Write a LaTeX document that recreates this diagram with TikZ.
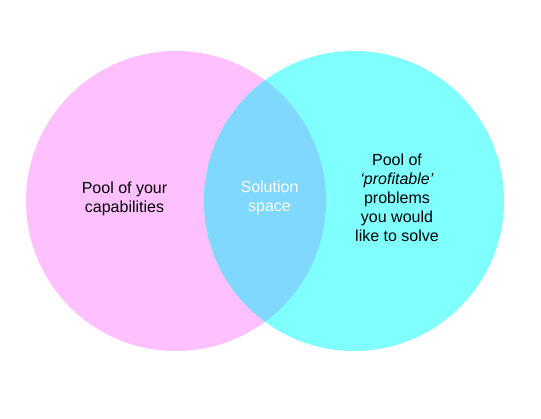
\documentclass[tikz,border=0pt]{standalone}
\usepackage{fontspec}
\setmainfont{Liberation Sans}
\definecolor{pinkc}{RGB}{255,192,255}
\definecolor{cyanc}{RGB}{128,255,255}
\definecolor{overc}{RGB}{128,216,255}
\begin{document}
\begin{tikzpicture}[x=1pt,y=-1pt,
  lbl/.style={align=center,font=\fontsize{16}{19}\selectfont,inner sep=0pt}]
\useasboundingbox (0,0) rectangle (541,419);
\fill[pinkc] (176,201) circle[radius=150];
\fill[cyanc] (354,201) circle[radius=150];
\begin{scope}
\clip (176,201) circle[radius=150];
\fill[overc] (354,201) circle[radius=150];
\end{scope}
\node[lbl] (left) at (124.5,199) {Pool of your\\capabilities};
\node[lbl,text=white] (mid) at (269.5,198) {Solution\\space};
\node[lbl] (right) at (397,198) {Pool of\\\textit{‘profitable’}\\problems\\you would\\like to solve};
\end{tikzpicture}
\end{document}
